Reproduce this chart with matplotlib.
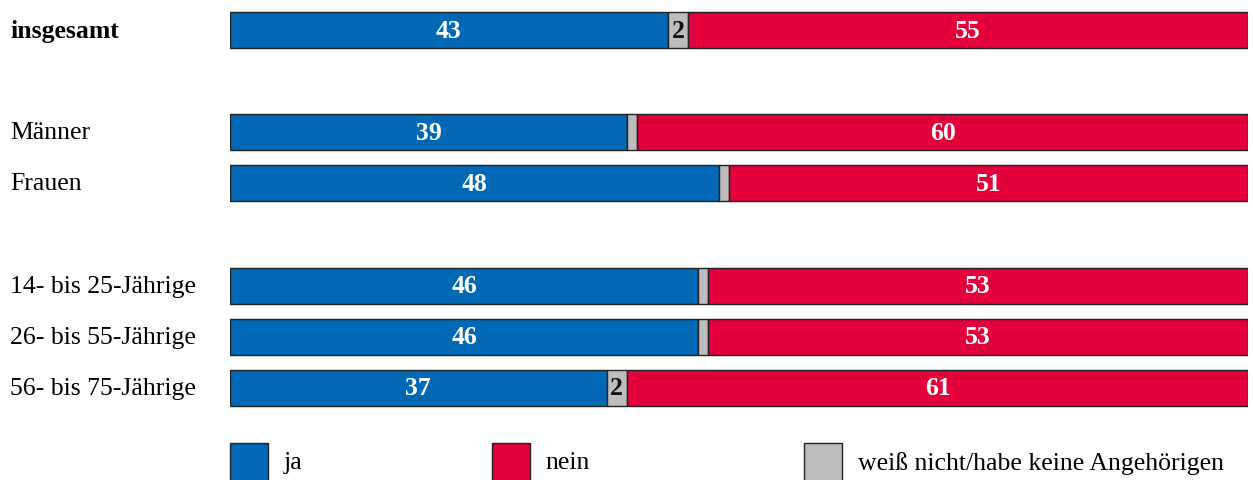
import matplotlib.pyplot as plt
import matplotlib.transforms as mtransforms
from matplotlib.patches import Rectangle

# data
groups = ["insgesamt", "Männer", "Frauen",
          "14- bis 25-Jährige", "26- bis 55-Jährige", "56- bis 75-Jährige"]
ja = [43, 39, 48, 46, 46, 37]
weiss = [2, 1, 1, 1, 1, 2]
nein = [55, 60, 51, 53, 53, 61]
weiss_labels = ["2", "", "", "", "", "2"]
rows = [0, 2, 3, 5, 6, 7]

series_names = ["ja", "nein", "weiß nicht/habe keine Angehörigen"]
blue = "#0068B4"
red = "#E4003A"
grey = "#BDBDBD"
colors = [blue, red, grey]

plt.rcParams['font.family'] = ['Liberation Serif', 'DejaVu Serif']

fig = plt.figure(figsize=(12.53, 4.81), dpi=100)
ax = fig.add_axes([230 / 1253, 0, 1018 / 1253, 1])

h = 0.705
ec = "#222222"
ax.barh(rows, ja, height=h, color=blue, edgecolor=ec, linewidth=1)
ax.barh(rows, weiss, left=ja, height=h, color=grey, edgecolor=ec, linewidth=1)
left_nein = [a + b for a, b in zip(ja, weiss)]
ax.barh(rows, nein, left=left_nein, height=h, color=red, edgecolor=ec, linewidth=1)

fs = 18.5
for r, a, w, n, wl in zip(rows, ja, weiss, nein, weiss_labels):
    ax.text(a / 2, r, str(a), ha="center", va="center", color="white",
            fontsize=fs, fontweight="bold")
    ax.text(a + w + n / 2, r, str(n), ha="center", va="center", color="white",
            fontsize=fs, fontweight="bold")
    if wl:
        ax.text(a + w / 2, r, wl, ha="center", va="center", color="#111111",
                fontsize=fs, fontweight="bold")

# row labels at the left edge
trans = mtransforms.blended_transform_factory(fig.transFigure, ax.transData)
for i, (g, r) in enumerate(zip(groups, rows)):
    ax.text(10 / 1253, r, g, transform=trans, ha="left", va="center",
            fontsize=fs, fontweight="bold" if i == 0 else "normal")

# legend
leg_x = [0, 25.7, 56.4]
leg_y = 8.46
sq_w = 3.75
sq_h = 0.744
for x, name, c in zip(leg_x, series_names, colors):
    ax.add_patch(Rectangle((x, leg_y - sq_h / 2), sq_w, sq_h, facecolor=c,
                           edgecolor=ec, linewidth=1, clip_on=False))
    ax.text(x + sq_w + 1.5, leg_y, name, ha="left", va="center", fontsize=fs)

ax.set_xlim(0, 100)
ax.set_ylim(8.806, -0.607)
ax.axis("off")

plt.savefig("out.png", dpi=100)
plt.close('all')
